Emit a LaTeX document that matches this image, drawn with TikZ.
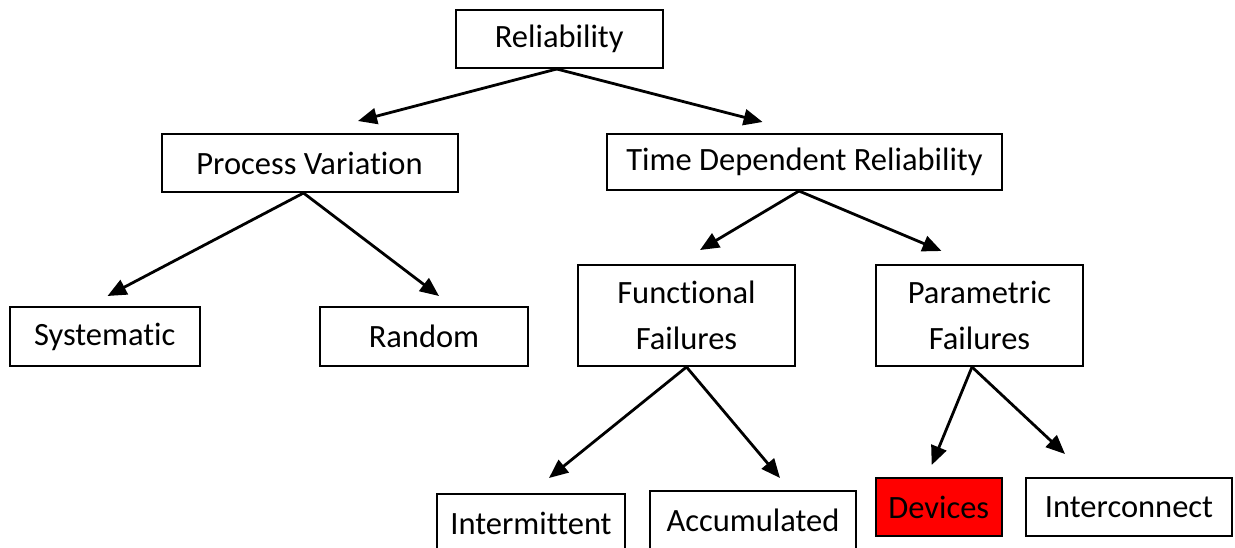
\documentclass[tikz,border=0pt]{standalone}
\usepackage{fontspec}
\setmainfont{Carlito}[RawFeature={-liga;-clig;-dlig}]
\usetikzlibrary{arrows.meta}
\tikzset{
  box/.style={draw=black, line width=2pt, fill=white, inner sep=0pt, align=center,
    font=\fontsize{32.5}{46.5}\selectfont},
  arr/.style={line width=2.8pt, -{Triangle[length=19pt,width=16pt]}},
}
\begin{document}
\begin{tikzpicture}[x=1pt,y=-1pt]
\useasboundingbox (0,0) rectangle (1235,548);
\clip (0,0) rectangle (1235,548);
\fill[white] (0,0) rectangle (1235,548);
% boxes
\node[box, minimum width=206.5pt, minimum height=58pt] (rel) at (559.25,39) {Reliability};
\node[box, minimum width=296pt, minimum height=58pt] (pv) at (309.5,163) {Process Variation};
\node[box, minimum width=395pt, minimum height=56pt] (tdr) at (804.5,162) {Time Dependent Reliability};
\node[box, minimum width=189.5pt, minimum height=59pt] (sys) at (104.75,336.5) {Systematic};
\node[box, minimum width=208pt, minimum height=59pt] (rnd) at (424,336.5) {Random};
\node[box, minimum width=217pt, minimum height=101pt] (ff) at (686.5,315.5) {Functional\\Failures};
\node[box, minimum width=207pt, minimum height=101pt] (pf) at (979.5,315.5) {Parametric\\Failures};
\node[box, minimum width=188pt, minimum height=58pt] (int) at (531,523) {Intermittent};
\node[box, minimum width=206pt, minimum height=59pt] (acc) at (753,520.5) {Accumulated};
\node[box, fill=red, minimum width=125.5pt, minimum height=58pt] (dev) at (938.75,507) {Devices};
\node[box, minimum width=206pt, minimum height=58pt] (ic) at (1129,507) {Interconnect};
% arrow tips
\coordinate (t-pv) at (358,121);
\coordinate (t-tdr) at (762.6,122);
\coordinate (t-sys) at (107.5,296);
\coordinate (t-rnd) at (439,296);
\coordinate (t-ff) at (700,250);
\coordinate (t-pf) at (941.5,251);
\coordinate (t-int) at (549,478);
\coordinate (t-acc) at (780,478);
\coordinate (t-dev) at (931.7,465);
\coordinate (t-ic) at (1065,454);
% connectors
\draw[arr] ([xshift=-2.5pt]rel.south) -- (t-pv);
\draw[arr] ([xshift=-2.5pt]rel.south) -- (t-tdr);
\draw[arr] ([xshift=-6pt]pv.south) -- (t-sys);
\draw[arr] ([xshift=-6pt]pv.south) -- (t-rnd);
\draw[arr] ([xshift=-5.5pt]tdr.south) -- (t-ff);
\draw[arr] ([xshift=-5.5pt]tdr.south) -- (t-pf);
\draw[arr] (ff.south) -- (t-int);
\draw[arr] (ff.south) -- (t-acc);
\draw[arr] ([xshift=-7.5pt]pf.south) -- (t-dev);
\draw[arr] ([xshift=-7.5pt]pf.south) -- (t-ic);
\end{tikzpicture}
\end{document}
